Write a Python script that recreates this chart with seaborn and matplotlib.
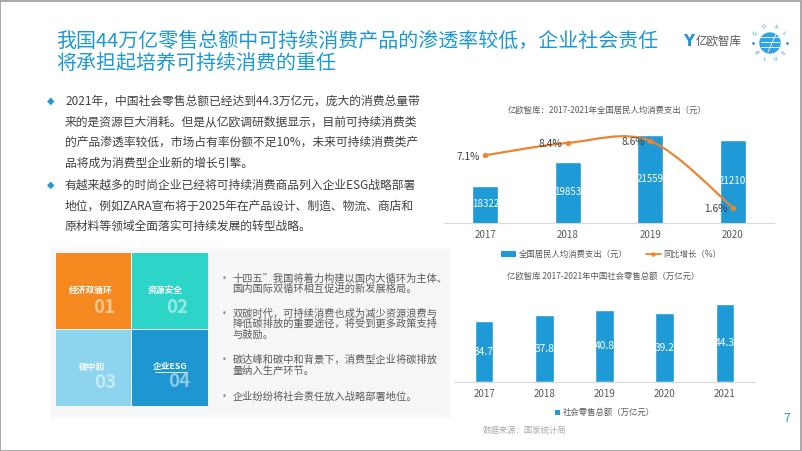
import numpy as np
import matplotlib
matplotlib.use("Agg")
import matplotlib.pyplot as plt
import seaborn as sns
from matplotlib.path import Path
from matplotlib.patches import PathPatch, Rectangle, Patch, Circle
from matplotlib.lines import Line2D

# ---------------- data ----------------
title_lines = ["我国44万亿零售总额中可持续消费产品的渗透率较低，企业社会责任",
               "将承担起培养可持续消费的重任"]
bullet1_lines = ["2021年，中国社会零售总额已经达到44.3万亿元，庞大的消费总量带",
                 "来的是资源巨大消耗。但是从亿欧调研数据显示，目前可持续消费类",
                 "的产品渗透率较低，市场占有率份额不足10%，未来可持续消费类产",
                 "品将成为消费型企业新的增长引擎。"]
bullet2_lines = ["有越来越多的时尚企业已经将可持续消费商品列入企业ESG战略部署",
                 "地位，例如ZARA宣布将于2025年在产品设计、制造、物流、商店和",
                 "原材料等领域全面落实可持续发展的转型战略。"]
box_labels = ["经济双循环", "资源安全", "碳中和", "企业ESG"]
box_numbers = ["01", "02", "03", "04"]
panel_paras = [["十四五”我国将着力构建以国内大循环为主体、", "国内国际双循环相互促进的新发展格局。"],
               ["双碳时代，可持续消费也成为减少资源浪费与", "降低碳排放的重要途径，将受到更多政策支持", "与鼓励。"],
               ["碳达峰和碳中和背景下，消费型企业将碳排放", "量纳入生产环节。"],
               ["企业纷纷将社会责任放入战略部署地位。"]]

top_title = "亿欧智库：2017-2021年全国居民人均消费支出（元）"
years_top = ["2017", "2018", "2019", "2020"]
spend = [18322, 19853, 21559, 21210]
growth = [7.1, 8.4, 8.6, 1.6]
spend_label = "全国居民人均消费支出（元）"
growth_label = "同比增长（%）"

bottom_title = "亿欧智库 2017-2021年中国社会零售总额（万亿元）"
years_bottom = ["2017", "2018", "2019", "2020", "2021"]
retail = [34.7, 37.8, 40.8, 39.2, 44.3]
retail_label = "社会零售总额（万亿元）"

source_text = "数据来源：国家统计局"
page_no = "7"
brand = "亿欧智库"

# ---------------- style ----------------
sns.set_theme(style="white")
plt.rcParams['font.family'] = ['Noto Sans CJK SC', 'DejaVu Sans']

W, H = 802, 451
fig = plt.figure(figsize=(W / 100, H / 100), dpi=100)
fig.patch.set_facecolor("white")

BLUE = "#1E9AD6"
ORANGE = "#EE8430"
DARK = "#404040"
GRAY = "#595959"


def fx(px):
    return px / W


def fy(py):
    return 1 - py / H


def axes_px(l, t, r, b):
    return fig.add_axes([l / W, 1 - b / H, (r - l) / W, (b - t) / H])


def ftext(x, y, s, **kw):
    return fig.text(fx(x), fy(y), s, **kw)


# frame
fig.patches.append(Rectangle((0.0005, 0.001), 0.998, 0.997, transform=fig.transFigure,
                             fill=False, edgecolor="#9A9A9A", lw=1.2))

# ---------------- title ----------------
ftext(56, 41, title_lines[0], fontsize=14.4, color="#1C98D4", va="center", ha="left")
ftext(56, 63, title_lines[1], fontsize=14.4, color="#1C98D4", va="center", ha="left")

# brand logo
ftext(683, 41, "Y", fontsize=11, color="#1E96D2", fontweight="bold", va="center", ha="left",
      family="DejaVu Sans")
ftext(696, 41, brand, fontsize=8.3, color="#555555", va="center", ha="left")
gax = axes_px(750, 22, 790, 64)
gax.set_xlim(-1, 1)
gax.set_ylim(-1, 1)
gax.set_aspect("equal")
gax.axis("off")
gax.add_patch(Circle((0, 0), 0.5, color="#2FA3E6"))
for yy in (-0.2, 0.05, 0.3):
    gax.plot([-0.45, 0.45], [yy, yy], color="white", lw=0.6)
gax.plot([-0.1, 0.3], [-0.45, 0.45], color="white", lw=0.6)
for ch, ang in zip("GOAL", (145, 110, 70, 35)):
    a = np.deg2rad(ang)
    gax.text(0.85 * np.cos(a), 0.85 * np.sin(a), ch, fontsize=3.6, color="#2F8FD0",
             ha="center", va="center", rotation=ang - 90, family="DejaVu Sans")
for ch, ang in zip("BLUE", (-145, -110, -70, -35)):
    a = np.deg2rad(ang)
    gax.text(0.85 * np.cos(a), 0.85 * np.sin(a), ch, fontsize=3.6, color="#2F8FD0",
             ha="center", va="center", rotation=ang + 90, family="DejaVu Sans")
gax.plot([-0.85, 0.85], [0, 0], "o", color="#2F8FD0", ms=1)

# ---------------- bullet text ----------------
line_y1 = [101, 121.7, 142.3, 163]
line_y2 = [185, 205.7, 226.3]
for lines, ys in ((bullet1_lines, line_y1), (bullet2_lines, line_y2)):
    ftext(51, ys[0], "◆", fontsize=7, color=BLUE, ha="center", va="center",
          family=["DejaVu Sans"])
    for s, y in zip(lines, ys):
        ftext(65, y, s, fontsize=8.5, color=DARK, ha="left", va="center")

# ---------------- boxes + panel ----------------
for i, a in enumerate((0.05, 0.05, 0.06)):
    g = 3 - i
    fig.patches.append(Rectangle((fx(52 - g), fy(416 + g)), (448 - 52 + 2 * g) / W, (416 - 250 + 2 * g) / H,
                                 transform=fig.transFigure, color="#C8D6E0", alpha=a, lw=0))
fig.patches.append(Rectangle((fx(208), fy(413)), (447 - 208) / W, (413 - 253) / H,
                             transform=fig.transFigure, color="#F5F6F7", lw=0))

box_cols = ["#F5891F", "#2DD5C8", "#8DD4EE", "#1E96D2"]
box_rects = [(56, 253, 131, 329), (132, 253, 208, 329), (56, 330, 131, 405.5), (132, 330, 208, 405.5)]
label_pos = [(90.7, 291.3), (165.3, 291.3), (91.8, 367.5), (170.5, 366.3)]
num_pos = [(104, 307.5), (176.7, 307.5), (105, 382), (178.7, 381.5)]
for (l, t, r, b), c, lab, num, lp, np_ in zip(box_rects, box_cols, box_labels, box_numbers,
                                              label_pos, num_pos):
    fig.patches.append(Rectangle((fx(l), fy(b)), (r - l) / W, (b - t) / H,
                                 transform=fig.transFigure, color=c, lw=0))
    ftext(lp[0], lp[1], lab, fontsize=6.3, color="white", fontweight="bold",
          ha="center", va="center")
    ftext(np_[0], np_[1], num, fontsize=13.5, color="white", alpha=0.5, fontweight="bold",
          ha="center", va="center")
fig.lines.append(Line2D([fx(154.5), fx(186.5)], [fy(371.5), fy(371.5)], transform=fig.transFigure,
                        color="white", lw=0.6))

para_ys = [[278.3, 288.8], [313.5, 324, 334.5], [360, 371], [396.7]]
for lines, ys in zip(panel_paras, para_ys):
    ftext(224.3, ys[0], "•", fontsize=6, color="#7F8C99", ha="center", va="center",
          family=["DejaVu Sans"])
    for s, y in zip(lines, ys):
        ftext(232.3, y, s, fontsize=7.35, color=GRAY, ha="left", va="center")

# ---------------- top chart ----------------
ax = axes_px(444, 127.7, 774, 222.7)
sns.barplot(x=years_top, y=spend, color=BLUE, saturation=1, width=0.31, errorbar=None, ax=ax)
ax.set_ylim(16000, 22000)
ax.set_xlim(-0.5, len(years_top) - 0.5)
ax.bar_label(ax.containers[0], labels=[str(v) for v in spend], label_type="center",
             color="white", fontsize=7)
ax2 = ax.twinx()
ax2.set_ylim(0, 10)


def smooth_path(xs, ys):
    pts = list(zip(xs, ys))
    n = len(pts)
    verts = [pts[0]]
    codes = [Path.MOVETO]
    for i in range(n - 1):
        p0 = pts[i - 1] if i > 0 else pts[i]
        p1 = pts[i]
        p2 = pts[i + 1]
        p3 = pts[i + 2] if i + 2 < n else pts[i + 1]
        c1 = (p1[0] + (p2[0] - p0[0]) / 6, p1[1] + (p2[1] - p0[1]) / 6)
        c2 = (p2[0] - (p3[0] - p1[0]) / 6, p2[1] - (p3[1] - p1[1]) / 6)
        verts += [c1, c2, p2]
        codes += [Path.CURVE4] * 3
    return Path(verts, codes)


xs_top = list(range(len(years_top)))
ax2.add_patch(PathPatch(smooth_path(xs_top, growth), facecolor="none", edgecolor=ORANGE, lw=1.6))
ax2.plot(xs_top, growth, linestyle="none", marker="o", ms=2.8, color=ORANGE)
for xi, g in zip(xs_top, growth):
    ax2.annotate(f"{g}%", (xi, g), xytext=(-4, -1), textcoords="offset points",
                 ha="right", va="center", fontsize=7.3, color=DARK)

for a in (ax, ax2):
    for s in ("top", "right", "left"):
        a.spines[s].set_visible(False)
    a.set_yticks([])
    a.set_ylabel("")
ax2.spines["bottom"].set_visible(False)
ax.spines["bottom"].set_color("#D9D9D9")
ax.spines["bottom"].set_linewidth(0.8)
ax.tick_params(axis="x", length=0, pad=5, labelsize=7, labelcolor=GRAY)
ax.set_xlabel("")
ax.patch.set_alpha(0)
ax2.patch.set_alpha(0)

ftext(607.5, 110, top_title, fontsize=6, color=GRAY, ha="center", va="center")
h1 = [Patch(facecolor=BLUE, edgecolor="none"),
      Line2D([], [], color=ORANGE, lw=1.3, marker="o", ms=2.2)]
fig.legend(h1, [spend_label, growth_label], loc="center", bbox_to_anchor=(fx(611), fy(254)),
           ncol=2, frameon=False, fontsize=6, handlelength=1.8, handleheight=0.7,
           handletextpad=0.3, columnspacing=2.2, labelcolor=GRAY)

# ---------------- bottom chart ----------------
bx = axes_px(454, 293.8, 755, 382.3)
sns.barplot(x=years_bottom, y=retail, color=BLUE, saturation=1, width=0.31, errorbar=None, ax=bx)
bx.set_ylim(0, 50)
bx.set_xlim(-0.5, len(years_bottom) - 0.5)
bx.bar_label(bx.containers[0], labels=[f"{v}" for v in retail], label_type="center",
             color="white", fontsize=7.3)
for s in ("top", "right", "left"):
    bx.spines[s].set_visible(False)
bx.spines["bottom"].set_color("#D9D9D9")
bx.spines["bottom"].set_linewidth(0.8)
bx.set_yticks([])
bx.set_ylabel("")
bx.set_xlabel("")
bx.tick_params(axis="x", length=0, pad=5, labelsize=7, labelcolor=GRAY)
bx.patch.set_alpha(0)

ftext(603.3, 276.7, bottom_title, fontsize=6, color=GRAY, ha="center", va="center")
fig.legend([Patch(facecolor=BLUE, edgecolor="none")], [retail_label], loc="center",
           bbox_to_anchor=(fx(605), fy(412.7)), frameon=False, fontsize=6,
           handlelength=0.6, handleheight=0.6, handletextpad=0.3, labelcolor=GRAY)

# ---------------- footer ----------------
ftext(786.7, 418.3, page_no, fontsize=9, color="#2C9BC9", ha="center", va="center")
ftext(525, 430.7, source_text, fontsize=6, color="#AAAAAA", ha="center", va="center")

fig.savefig("out.png", dpi=100, facecolor="white")
